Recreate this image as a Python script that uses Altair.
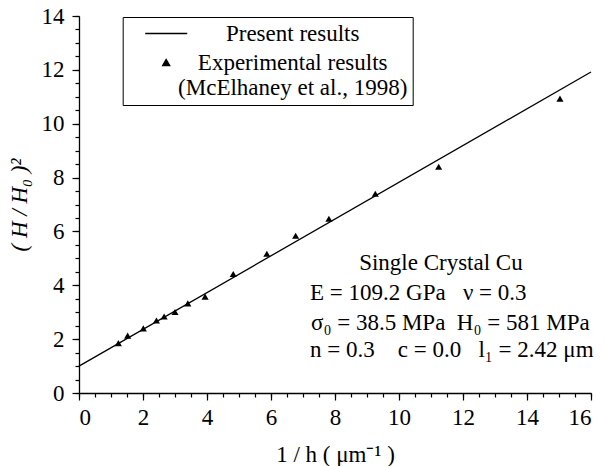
import altair as alt
import pandas as pd

FONT = "Liberation Serif"

# Experimental results (McElhaney et al., 1998)
exp_x = [1.23, 1.52, 2.01, 2.42, 2.66, 3.00, 3.40, 3.94, 4.82, 5.87, 6.77, 7.81, 9.26, 11.24, 15.03]
exp_y = [1.85, 2.13, 2.40, 2.69, 2.84, 3.01, 3.33, 3.58, 4.42, 5.17, 5.84, 6.47, 7.40, 8.40, 10.93]

# Present results (straight line)
fit_x = [0.0, 16.0]
fit_y = [1.0, 11.92]

series_names = ["Present results", "Experimental results"]
series_shapes = ["M-3,0H3", "triangle-up"]
series_sizes = [196, 50]

major_x = [0, 2, 4, 6, 8, 10, 12, 14, 16]
major_y = [0, 2, 4, 6, 8, 10, 12, 14]
minor_x = [i * 0.5 for i in range(33)]
minor_y = [i * 0.5 for i in range(29)]

NB = "\u00a0"
ann_text = [
    "Single Crystal Cu",
    f"E = 109.2 GPa{NB}{NB}{NB}ν = 0.3",
    f"σ₀ = 38.5 MPa{NB}{NB}H₀ = 581 MPa",
    f"n = 0.3{NB}{NB}{NB}{NB}c = 0.0{NB}{NB}{NB}l₁ = 2.42 μm",
]
ann_x = [11.31, 7.22, 7.25, 7.22]
ann_y = [4.83, 3.72, 2.60, 1.60]
ann_align = ["center", "left", "left", "left"]

fit_df = pd.DataFrame({"x": fit_x, "y": fit_y, "series": series_names[0]})
exp_df = pd.DataFrame({"x": exp_x, "y": exp_y, "series": series_names[1]})
ann_df = pd.DataFrame({"x": ann_x, "y": ann_y, "text": ann_text, "align": ann_align})

xscale = alt.Scale(domain=[0, 16], nice=False, zero=False)
yscale = alt.Scale(domain=[0, 14], nice=False, zero=False)
cscale = alt.Scale(domain=series_names, range=["black", "black"])
shscale = alt.Scale(domain=series_names, range=series_shapes)
szscale = alt.Scale(domain=series_names, range=series_sizes)

axis_common = dict(
    domainColor="black", domainWidth=1.3, tickColor="black", tickWidth=1.2,
    labelFont=FONT, labelFontSize=23, labelColor="black",
    titleFont=FONT, titleFontSize=23, titleColor="black", titleFontWeight="normal",
    grid=False,
)

x_major = alt.Axis(values=major_x, tickSize=7, labelPadding=6, format="d",
                   title="1 / h  ( μm⁻¹ )", titlePadding=14, orient="bottom", **axis_common)
y_major = alt.Axis(values=major_y, tickSize=7, labelPadding=8, format="d",
                   title="( H / H₀ )²", titlePadding=10, orient="left",
                   titleFontStyle="italic", **axis_common)
x_minor = alt.Axis(values=minor_x, tickSize=4, labels=False, title=None, domain=False,
                   orient="bottom", tickColor="black", tickWidth=1.2, grid=False)
y_minor = alt.Axis(values=minor_y, tickSize=4, labels=False, title=None, domain=False,
                   orient="left", tickColor="black", tickWidth=1.2, grid=False)

legend = alt.Legend(
    title=None, orient="none", legendX=43.7, legendY=1,
    strokeColor="black", padding=5, fillColor="white",
    labelFont=FONT, labelFontSize=23, labelColor="black",
    labelAlign="center", labelOffset=115, symbolOffset=27,
    symbolStrokeColor="black", symbolFillColor="black",
    symbolStrokeWidth=1.3, rowPadding=5,
    labelLimit=400,
    labelExpr="datum.label == 'Experimental results' ? ['Experimental results', '(McElhaney et al., 1998)'] : datum.label",
)

line = alt.Chart(fit_df).mark_line(strokeWidth=1.3).encode(
    x=alt.X("x:Q", scale=xscale, axis=x_major),
    y=alt.Y("y:Q", scale=yscale, axis=y_major),
    color=alt.Color("series:N", scale=cscale, legend=legend),
)

points = alt.Chart(exp_df).mark_point(filled=True, opacity=1).encode(
    x=alt.X("x:Q", scale=xscale, axis=x_minor),
    y=alt.Y("y:Q", scale=yscale, axis=y_minor),
    color=alt.Color("series:N", scale=cscale, legend=legend),
    shape=alt.Shape("series:N", scale=shscale, legend=legend),
    size=alt.Size("series:N", scale=szscale, legend=legend),
)

text_center = alt.Chart(ann_df).transform_filter("datum.align == 'center'").mark_text(
    font=FONT, fontSize=23, color="black", align="center", baseline="middle"
).encode(
    x=alt.X("x:Q", scale=xscale, axis=None),
    y=alt.Y("y:Q", scale=yscale, axis=None),
    text="text:N",
)
text_left = alt.Chart(ann_df).transform_filter("datum.align == 'left'").mark_text(
    font=FONT, fontSize=23, color="black", align="left", baseline="middle"
).encode(
    x=alt.X("x:Q", scale=xscale, axis=None),
    y=alt.Y("y:Q", scale=yscale, axis=None),
    text="text:N",
)

chart = alt.layer(line, points, text_center, text_left).resolve_axis(
    x="independent", y="independent"
).properties(
    width=512, height=377,
    padding={"left": 79, "top": 16, "right": 14, "bottom": 73},
    autosize=alt.AutoSizeParams(type="none"),
    background="white",
).configure_view(stroke=None)

chart.save("out.html", embed_options={"renderer": "svg", "actions": False})
